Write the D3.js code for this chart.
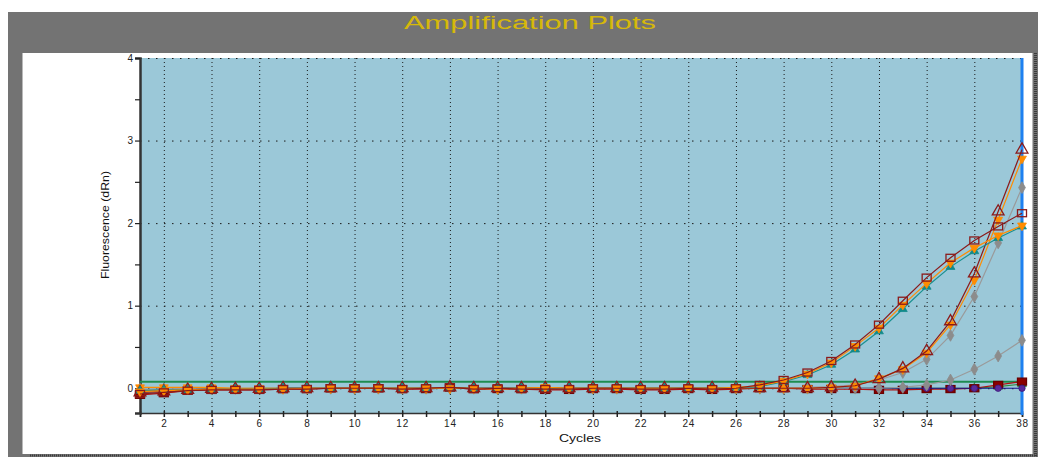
<!DOCTYPE html>
<html>
<head>
<meta charset="utf-8">
<script src="https://cdn.jsdelivr.net/npm/d3@7"></script>
<style>
  html, body { margin: 0; padding: 0; background: #ffffff; }
  svg { display: block; }
</style>
</head>
<body>
<svg id="chart" width="1038" height="457"></svg>
<script>
// Cycle numbers (x categories)
const cycles = [1,2,3,4,5,6,7,8,9,10,11,12,13,14,15,16,17,18,19,20,21,22,23,24,25,26,27,28,29,30,31,32,33,34,35,36,37,38];

// Axis ticks
const yMajorTicks = [0, 1, 2, 3, 4];
const yMinorTicks = [0.5, 1.5, 2.5, 3.5];
const xLabelTicks = [2,4,6,8,10,12,14,16,18,20,22,24,26,28,30,32,34,36,38];

// Threshold (dRn)
const threshold = 0.08;

// Fluorescence (dRn) per cycle, one array per well
const earlySquare = [-0.07,-0.05,-0.03,-0.02,-0.02,-0.02,-0.01,-0.01,0,0,0,-0.01,0,0.01,-0.01,0,-0.01,-0.01,-0.01,0,0,-0.01,-0.01,0,-0.01,0,0.04,
  0.10,0.19,0.33,0.53,0.77,1.06,1.34,1.58,1.79,1.96,2.12];
const earlyOrange = [-0.04,-0.03,-0.02,-0.01,-0.01,-0.01,-0.01,0,0,0,0,0,0,0,0,-0.01,0,0.01,0,0,0,0,0,0,0,0.01,0.03,
  0.09,0.175,0.31,0.51,0.73,1.01,1.27,1.52,1.70,1.85,1.97];
const earlyTeal = [-0.03,-0.02,-0.02,-0.01,-0.01,-0.01,0,0,0,0,0,0,0,0,0,0,0,0,0,0,0,0,0,0,0,0.01,0.02,
  0.08,0.16,0.285,0.47,0.69,0.96,1.23,1.47,1.66,1.82,1.96];
const lateTriangle = [-0.05,-0.04,-0.02,-0.01,-0.01,-0.01,0,0,0,0,0,0,0,0.01,0,0,0,0,0,0,0,0,0,0,0,0,0,0,0,0.01,
  0.03,0.11,0.24,0.45,0.81,1.39,2.14,2.89];
const lateOrange = [0.01,0.01,0.01,0.01,0,0,0,0,0,0,0,0,0,0,0,0,0,0.01,0,0,0,0,0,0,0,0,0,0,0,0.01,
  0.03,0.12,0.23,0.43,0.77,1.31,2.04,2.78];
const lateGray = [-0.02,-0.01,-0.01,-0.01,0,0,0,0,0,0,0,0,0,0,0,0,0,0,0,0,0,0,0,0,0,0,0,0,0.01,0.02,
  0.04,0.10,0.19,0.35,0.64,1.11,1.76,2.43];
const veryLateGray = [-0.01,-0.01,0,0,0,0,0,0,0,0,0,0,0,0,0,0,0,0,0,0,0,0,0,0,0,0,0,0,0,0,0,0,0.01,
  0.04,0.10,0.23,0.39,0.58];
const flatNavy = [-0.03,-0.02,-0.01,-0.01,-0.01,-0.01,0,0,0,0,0,0,0,0,0,0,0,0,0,0,0,0,0,0,0,0,0,0,0,0,0,0,0,0,0,0,0,0];
const flatRed = [-0.08,-0.06,-0.03,-0.02,-0.02,-0.02,-0.01,-0.01,0,0,0,-0.01,-0.01,0.01,-0.01,-0.01,-0.01,-0.02,-0.02,-0.01,-0.01,-0.02,-0.02,-0.01,-0.02,-0.01,0,0,-0.01,-0.01,-0.01,-0.02,-0.02,-0.01,-0.01,0,0.04,0.08];
const flatGreen = [-0.02,-0.02,-0.01,-0.01,-0.01,0,0,0,0,0,0,0,0,0,0,0,0,0,0,0,0,0,0,0,0,0,0,0,0,0,0,0,0,0,0,0,0.02,0.05];

// Drawing order: flat wells first, amplified wells on top
const series = [
  { values: flatGreen,    line: "#2e8b3a", marker: "triUp",   fill: "#2e8b3a", stroke: "#2e8b3a" },
  { values: flatRed,      line: "#b01010", marker: "rect",    fill: "#8b0000", stroke: "#6a0000" },
  { values: flatNavy,     line: "#14148a", marker: "circle",  fill: "#5b2a9a", stroke: "#3a1a7a" },
  { values: veryLateGray, line: "#9a9a9a", marker: "diamond", fill: "#8c8c8c", stroke: "#8c8c8c" },
  { values: lateGray,     line: "#9a9a9a", marker: "diamond", fill: "#8c8c8c", stroke: "#8c8c8c" },
  { values: lateOrange,   line: "#ff8c00", marker: "triDown", fill: "#ff8c00", stroke: "#ff8c00" },
  { values: lateTriangle, line: "#8b1a1a", marker: "triUpOpen", fill: "none", stroke: "#8b1a1a" },
  { values: earlyTeal,    line: "#1a9090", marker: "triUp",   fill: "#128a8a", stroke: "#128a8a" },
  { values: earlyOrange,  line: "#ff8c00", marker: "triDown", fill: "#ff8c00", stroke: "#ff8c00" },
  { values: earlySquare,  line: "#8b1a1a", marker: "rectOpen", fill: "none", stroke: "#8b1a1a" }
];

const svg = d3.select("#chart");

// Window frame
svg.append("rect").attr("x", 8).attr("y", 12).attr("width", 1030).attr("height", 445).attr("fill", "#737373");
svg.append("rect").attr("x", 22.5).attr("y", 53).attr("width", 1010).attr("height", 401).attr("fill", "#ffffff");
svg.append("line").attr("x1", 1035.5).attr("x2", 1035.5).attr("y1", 53).attr("y2", 457)
  .attr("stroke", "#3a3a3a").attr("stroke-width", 3).attr("stroke-dasharray", "1,1");
svg.append("line").attr("x1", 30).attr("x2", 1038).attr("y1", 455.5).attr("y2", 455.5)
  .attr("stroke", "#3a3a3a").attr("stroke-width", 2).attr("stroke-dasharray", "1,1");

svg.append("text").attr("x", 530).attr("y", 29).attr("text-anchor", "middle")
  .attr("font-family", "Liberation Sans, Arial, sans-serif").attr("font-size", 18)
  .attr("textLength", 252).attr("lengthAdjust", "spacingAndGlyphs")
  .attr("fill", "#d6b80a").text("Amplification Plots");

// Scales
const x = d3.scaleLinear().domain([1, 38]).range([140, 1022]);
const y = d3.scaleLinear().domain([-0.3, 4]).range([413, 58]);

// Plot background
svg.append("rect").attr("x", x(1)).attr("y", y(4)).attr("width", x(38) - x(1)).attr("height", y(-0.3) - y(4))
  .attr("fill", "#9bc8d8");

// Grid
const grid = svg.append("g");
grid.selectAll("line.v").data(xLabelTicks.filter(d => d < 38)).join("line")
  .attr("x1", d => x(d) + 0.5).attr("x2", d => x(d) + 0.5).attr("y1", y(4)).attr("y2", y(-0.3))
  .attr("stroke", "#1a1a1a").attr("stroke-width", 1).attr("stroke-dasharray", "1,3");
grid.selectAll("line.h").data(yMajorTicks).join("line")
  .attr("x1", x(1)).attr("x2", x(38)).attr("y1", d => y(d) + 0.5).attr("y2", d => y(d) + 0.5)
  .attr("stroke", "#1a1a1a").attr("stroke-width", 1).attr("stroke-dasharray", "1.5,6.5");

// Axes
const xAxis = d3.axisBottom(x).tickValues(cycles).tickSize(4)
  .tickFormat(d => xLabelTicks.includes(d) ? d : "");
const gx = svg.append("g").attr("transform", `translate(0,${y(-0.3)})`).call(xAxis);
gx.select(".domain").attr("stroke", "#333").attr("stroke-width", 1.5);
gx.selectAll(".tick line").attr("stroke", "#222").attr("stroke-width", 1.5).attr("y1", -2);
gx.selectAll(".tick text").attr("font-family", "Liberation Sans, Arial, sans-serif")
  .attr("font-size", 10).attr("letter-spacing", 0.8).attr("fill", "#222").attr("dy", "0.9em").attr("y", 5);

const yAxis = d3.axisLeft(y).tickValues(yMajorTicks.concat(yMinorTicks)).tickSize(5)
  .tickFormat(d => yMajorTicks.includes(d) ? d : "");
const gy = svg.append("g").attr("transform", `translate(${x(1)},0)`).call(yAxis);
gy.select(".domain").attr("stroke", "#333").attr("stroke-width", 2.5);
gy.selectAll(".tick line").attr("stroke", "#222").attr("stroke-width", 1.2);
gy.selectAll(".tick text").attr("font-family", "Liberation Sans, Arial, sans-serif")
  .attr("font-size", 10).attr("fill", "#222").attr("x", -7);

// Axis titles
svg.append("text").attr("transform", `translate(109,225) rotate(-90)`).attr("text-anchor", "middle")
  .attr("font-family", "Liberation Sans, Arial, sans-serif").attr("font-size", 11)
  .attr("textLength", 108).attr("lengthAdjust", "spacingAndGlyphs").attr("fill", "#111")
  .text("Fluorescence (dRn)");
svg.append("text").attr("x", 580).attr("y", 442).attr("text-anchor", "middle")
  .attr("font-family", "Liberation Sans, Arial, sans-serif").attr("font-size", 10)
  .attr("textLength", 42).attr("lengthAdjust", "spacingAndGlyphs").attr("fill", "#111")
  .text("Cycles");

// Threshold line
svg.append("line").attr("x1", x(1)).attr("x2", x(38)).attr("y1", y(threshold)).attr("y2", y(threshold))
  .attr("stroke", "#1e8c50").attr("stroke-width", 2);

// Current-cycle marker
svg.append("line").attr("x1", x(38)).attr("x2", x(38)).attr("y1", y(4)).attr("y2", y(-0.3) + 2)
  .attr("stroke", "#1e80f0").attr("stroke-width", 3);

// Amplification curves
const lineGen = d3.line().x((d, i) => x(cycles[i])).y(d => y(d));
const triUp = d3.symbol().type(d3.symbolTriangle).size(34);
const diamond = d3.symbol().type(d3.symbolDiamond).size(40);
const plotG = svg.append("g");

series.forEach(s => {
  const g = plotG.append("g");
  g.append("path").datum(s.values).attr("d", lineGen).attr("fill", "none")
    .attr("stroke", s.line).attr("stroke-width", 1.2);
  const pts = s.values.map((v, i) => ({ cx: x(cycles[i]), cy: y(v) }));
  const m = g.selectAll("g.m").data(pts).join("g").attr("transform", d => `translate(${d.cx},${d.cy})`);
  if (s.marker === "rect" || s.marker === "rectOpen") {
    m.append("rect").attr("x", -4.5).attr("y", -3.5).attr("width", 9).attr("height", 7)
      .attr("fill", s.fill).attr("stroke", s.stroke).attr("stroke-width", 1.3);
  } else if (s.marker === "circle") {
    m.append("circle").attr("r", 3.2).attr("fill", s.fill).attr("stroke", s.stroke).attr("stroke-width", 0.8);
  } else if (s.marker === "diamond") {
    m.append("path").attr("d", diamond).attr("fill", s.fill).attr("stroke", s.stroke).attr("stroke-width", 0.8);
  } else if (s.marker === "triDown") {
    m.append("path").attr("d", triUp).attr("transform", "rotate(180)")
      .attr("fill", s.fill).attr("stroke", s.stroke).attr("stroke-width", 0.8);
  } else if (s.marker === "triUpOpen") {
    m.append("path").attr("d", d3.symbol().type(d3.symbolTriangle).size(60))
      .attr("fill", "none").attr("stroke", s.stroke).attr("stroke-width", 1.3);
  } else {
    m.append("path").attr("d", triUp).attr("fill", s.fill).attr("stroke", s.stroke).attr("stroke-width", 0.8);
  }
});
</script>
</body>
</html>
